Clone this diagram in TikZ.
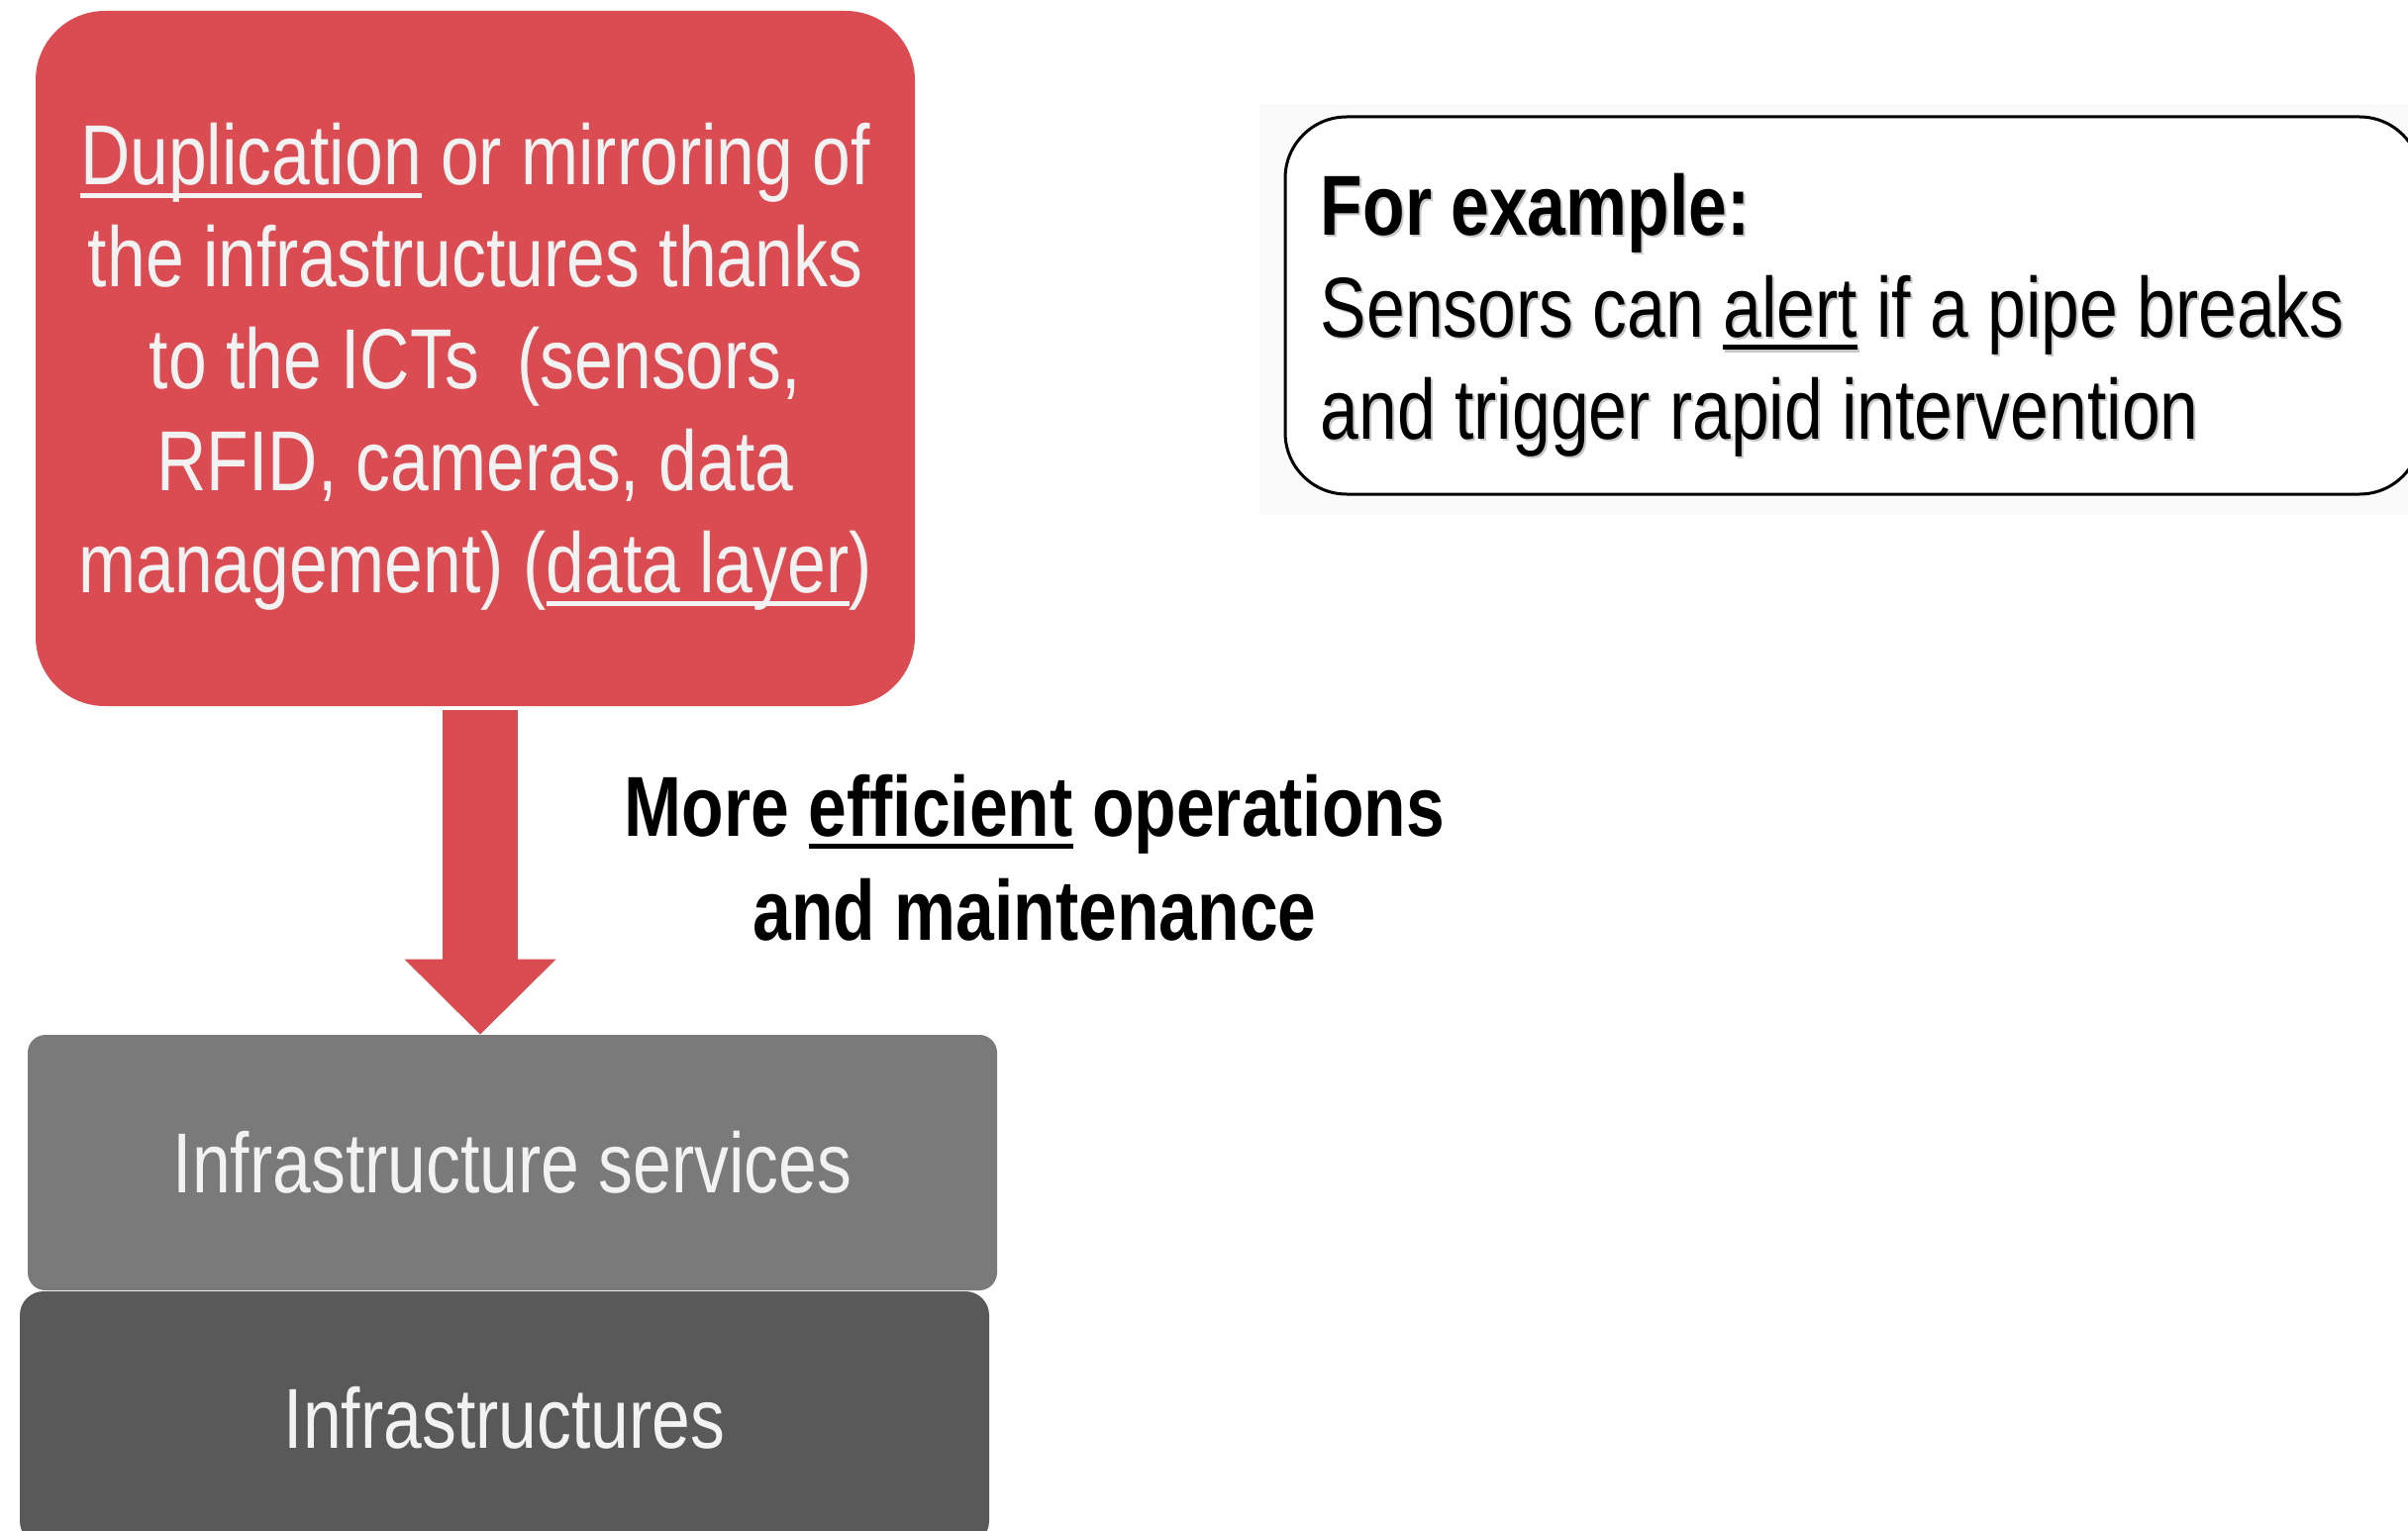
\documentclass[tikz,border=0pt]{standalone}
\usepackage{fontspec}
\setmainfont{Liberation Sans}[FakeStretch=0.81]
\usetikzlibrary{arrows.meta}

\definecolor{boxred}{HTML}{DB4C52}
\definecolor{servgray}{HTML}{7A7A7A}
\definecolor{infragray}{HTML}{595959}
\definecolor{paletext}{HTML}{F2F2F2}
\definecolor{panelbg}{HTML}{FAFAFA}

% underline drawn in the current text colour
\newsavebox\ulbox
\newcommand\ulword[1]{\sbox\ulbox{#1}\rlap{\rule[-6.5pt]{\wd\ulbox}{2.5pt}}\usebox\ulbox}

\tikzset{
  body/.style={font=\fontsize{43pt}{51.5pt}\selectfont},
  boldbody/.style={font=\fontsize{43pt}{52.5pt}\selectfont\bfseries},
  layer/.style={inner sep=0pt, text=paletext, body, minimum width=489.5pt},
  bigarrow/.style={boxred, line width=38pt,
    -{Triangle[length=38pt, width=76.5pt, line width=0pt]}},
  examplebox/.style={draw=black, line width=1.5pt, fill=white,
    rounded corners=31pt, minimum width=573.5pt, minimum height=190.5pt},
}

\begin{document}
\begin{tikzpicture}[x=0.5pt, y=-0.5pt]
\useasboundingbox (0,0) rectangle (2432,1546);
\clip (0,0) rectangle (2432,1546);

% light panel behind the example box
\fill[panelbg] (1272,105) rectangle (2432,520);

% data layer box and its text
\node[fill=boxred, rounded corners=35pt, minimum width=444pt, minimum height=351pt,
      inner sep=0pt] (ict) at (480,362) {};
\node[inner sep=0pt, text=paletext, align=center, body] (icttext)
  at ([yshift=-4.3pt]ict.center)
  {\ulword{Duplication} or mirroring of\\
   the infrastructures thanks\\
   to the ICTs\ \ (sensors,\\
   RFID, cameras, data\\
   management) (\ulword{data layer})};

% stacked layers
\node[fill=infragray, layer, rounded corners=12pt, minimum height=128pt] (infra) at (509.5,1432) {Infrastructures};
\node[fill=servgray, layer, rounded corners=9pt, minimum height=129pt] (serv) at (517.5,1174) {Infrastructure services};

% arrow from the data layer down to the services
\draw[bigarrow] ([xshift=2.5pt, yshift=-2pt]ict.south) -- ([xshift=2.5pt]ict.south |- serv.north);

\node[boldbody, align=center, inner sep=0pt] (gain) at (1045,866)
  {More \ulword{efficient} operations\\ and maintenance};

% example box
\node[examplebox] (exbox) at (1871.5,308.5) {};
\node[body, align=left, anchor=west, inner sep=0pt, text=black!40, opacity=0.55]
  (exshadow) at ([xshift=19.5pt, yshift=-6pt]exbox.west)
  {\textbf{For example:}\\ Sensors can \ulword{alert} if a pipe breaks\\ and trigger rapid intervention};
\node[body, align=left, anchor=west, inner sep=0pt] (extext)
  at ([xshift=18.5pt, yshift=-4.75pt]exbox.west)
  {\textbf{For example:}\\ Sensors can \ulword{alert} if a pipe breaks\\ and trigger rapid intervention};
\end{tikzpicture}
\end{document}
